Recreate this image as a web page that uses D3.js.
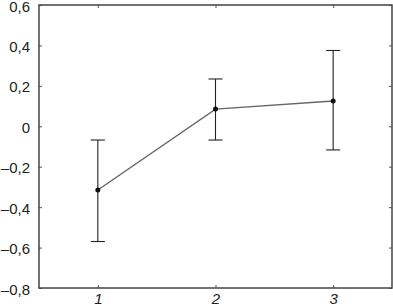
<!DOCTYPE html>
<html>
<head>
<meta charset="utf-8">
<script src="https://cdn.jsdelivr.net/npm/d3@7"></script>
<style>
  body { margin: 0; background: #fff; }
  svg { display: block; font-family: "Liberation Sans", Arial, sans-serif; }
</style>
</head>
<body>
<div id="chart"></div>
<script>
// data
const groups = ["1", "2", "3"];
const means  = [-0.315, 0.085, 0.125];
const lower  = [-0.57, -0.068, -0.117];
const upper  = [-0.068, 0.234, 0.375];
const yTicks = [-0.8, -0.6, -0.4, -0.2, 0, 0.2, 0.4, 0.6];

(function() {
  const fullW = 393, fullH = 308;
  const margin = { top: 5, right: 1, bottom: 20, left: 39 };
  const W = fullW - margin.left - margin.right;
  const H = fullH - margin.top - margin.bottom;

  const svg = d3.select("#chart").append("svg")
    .attr("width", fullW).attr("height", fullH);
  const g = svg.append("g").attr("transform", `translate(${margin.left},${margin.top})`);

  const x = d3.scalePoint().domain(groups).range([0, W]).padding(0.5);
  const y = d3.scaleLinear().domain([-0.8, 0.6]).range([H, 0]);

  const fmt = v => (v < 0 ? "\u2013" : "") + (v === 0 ? "0" : d3.format(".1f")(Math.abs(v)).replace(".", ","));

  // inward ticks on all four sides
  const tickLen = 3;
  function addAxis(gen, t) {
    const ax = g.append("g").attr("transform", t).call(gen);
    ax.select(".domain").remove();
    ax.selectAll(".tick line").attr("stroke", "#555");
    ax.selectAll("text")
      .attr("fill", "#222")
      .style("font-size", "15px")
      .style("font-family", "\"Liberation Sans\", Arial, sans-serif");
    return ax;
  }
  const yAxisG = addAxis(d3.axisLeft(y).tickValues(yTicks).tickSize(-tickLen).tickFormat(fmt), "translate(0,0)");
  addAxis(d3.axisRight(y).tickValues(yTicks).tickSize(-tickLen).tickFormat(""), `translate(${W},0)`);
  const xAxisG = addAxis(d3.axisBottom(x).tickSize(-tickLen), `translate(0,${H})`);
  addAxis(d3.axisTop(x).tickSize(-tickLen).tickFormat(""), "translate(0,0)");

  yAxisG.selectAll(".tick text").attr("x", -9).attr("dy", "0.4em");
  xAxisG.selectAll(".tick text").attr("y", 5).attr("dy", "0.72em").style("font-style", "italic");

  // frame
  g.append("rect")
    .attr("x", 0).attr("y", 0).attr("width", W).attr("height", H)
    .attr("fill", "none").attr("stroke", "#444").attr("stroke-width", 1.5);

  const pts = groups.map((k, i) => ({ k, m: means[i], lo: lower[i], hi: upper[i] }));

  // connecting line
  g.append("path")
    .datum(pts)
    .attr("fill", "none")
    .attr("stroke", "#666")
    .attr("stroke-width", 1.4)
    .attr("d", d3.line().x(d => x(d.k)).y(d => y(d.m)));

  // error bars
  const cap = 7;
  const eb = g.selectAll(".eb").data(pts).enter().append("g").attr("class", "eb")
    .attr("stroke", "#222").attr("stroke-width", 1.1);
  eb.append("line")
    .attr("x1", d => x(d.k)).attr("x2", d => x(d.k))
    .attr("y1", d => y(d.lo)).attr("y2", d => y(d.hi));
  eb.append("line")
    .attr("x1", d => x(d.k) - cap).attr("x2", d => x(d.k) + cap)
    .attr("y1", d => y(d.hi)).attr("y2", d => y(d.hi));
  eb.append("line")
    .attr("x1", d => x(d.k) - cap).attr("x2", d => x(d.k) + cap)
    .attr("y1", d => y(d.lo)).attr("y2", d => y(d.lo));

  // points
  g.selectAll(".pt").data(pts).enter().append("circle")
    .attr("class", "pt")
    .attr("cx", d => x(d.k)).attr("cy", d => y(d.m))
    .attr("r", 2.5).attr("fill", "#111");
})();
</script>
</body>
</html>
